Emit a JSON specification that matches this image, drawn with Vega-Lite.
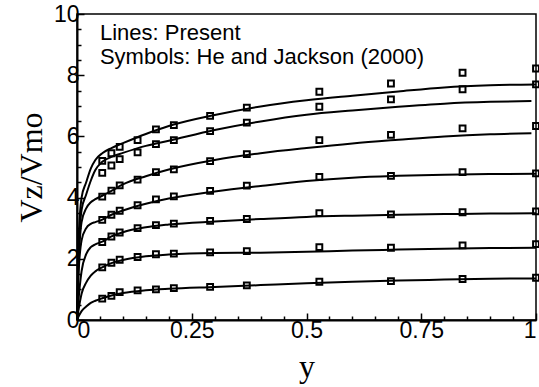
{
  "$schema": "https://vega.github.io/schema/vega-lite/v6.json",
  "autosize": "none",
  "width": 459,
  "height": 306,
  "padding": {"left": 77, "top": 14, "right": 3, "bottom": 67},
  "background": "white",
  "config": {
    "view": {"stroke": "black", "strokeWidth": 1.5},
    "axis": {
      "domainColor": "black", "domainWidth": 2, "tickColor": "black", "tickWidth": 1.5,
      "labelFont": "Liberation Sans", "labelFontSize": 23, "labelColor": "black",
      "titleFont": "Liberation Serif", "titleFontSize": 32, "titleFontWeight": "normal", "titleColor": "black",
      "grid": false
    }
  },
  "datasets": {
    "lines": [
      {"case": 1, "pos": 0, "vz": 0}, {"case": 1, "pos": 0.003, "vz": 0.1}, {"case": 1, "pos": 0.01, "vz": 0.29}, {"case": 1, "pos": 0.02, "vz": 0.44}, {"case": 1, "pos": 0.03, "vz": 0.56}, {"case": 1, "pos": 0.04, "vz": 0.63}, {"case": 1, "pos": 0.055, "vz": 0.71}, {"case": 1, "pos": 0.075, "vz": 0.8}, {"case": 1, "pos": 0.1, "vz": 0.88}, {"case": 1, "pos": 0.15, "vz": 0.97}, {"case": 1, "pos": 0.2, "vz": 1.02}, {"case": 1, "pos": 0.3, "vz": 1.08}, {"case": 1, "pos": 0.4, "vz": 1.14}, {"case": 1, "pos": 0.5, "vz": 1.2}, {"case": 1, "pos": 0.6, "vz": 1.25}, {"case": 1, "pos": 0.7, "vz": 1.29}, {"case": 1, "pos": 0.8, "vz": 1.32}, {"case": 1, "pos": 0.9, "vz": 1.35}, {"case": 1, "pos": 1.0, "vz": 1.36},
      {"case": 2, "pos": 0, "vz": 0}, {"case": 2, "pos": 0.003, "vz": 0.3}, {"case": 2, "pos": 0.01, "vz": 0.86}, {"case": 2, "pos": 0.02, "vz": 1.22}, {"case": 2, "pos": 0.03, "vz": 1.45}, {"case": 2, "pos": 0.04, "vz": 1.59}, {"case": 2, "pos": 0.055, "vz": 1.72}, {"case": 2, "pos": 0.075, "vz": 1.86}, {"case": 2, "pos": 0.1, "vz": 1.96}, {"case": 2, "pos": 0.15, "vz": 2.08}, {"case": 2, "pos": 0.2, "vz": 2.14}, {"case": 2, "pos": 0.3, "vz": 2.19}, {"case": 2, "pos": 0.4, "vz": 2.2}, {"case": 2, "pos": 0.5, "vz": 2.23}, {"case": 2, "pos": 0.6, "vz": 2.27}, {"case": 2, "pos": 0.7, "vz": 2.3}, {"case": 2, "pos": 0.8, "vz": 2.33}, {"case": 2, "pos": 0.9, "vz": 2.35}, {"case": 2, "pos": 1.0, "vz": 2.36},
      {"case": 3, "pos": 0, "vz": 0}, {"case": 3, "pos": 0.003, "vz": 0.6}, {"case": 3, "pos": 0.01, "vz": 1.6}, {"case": 3, "pos": 0.02, "vz": 2.15}, {"case": 3, "pos": 0.03, "vz": 2.38}, {"case": 3, "pos": 0.04, "vz": 2.47}, {"case": 3, "pos": 0.055, "vz": 2.56}, {"case": 3, "pos": 0.075, "vz": 2.73}, {"case": 3, "pos": 0.1, "vz": 2.87}, {"case": 3, "pos": 0.15, "vz": 3.03}, {"case": 3, "pos": 0.2, "vz": 3.12}, {"case": 3, "pos": 0.3, "vz": 3.22}, {"case": 3, "pos": 0.4, "vz": 3.3}, {"case": 3, "pos": 0.5, "vz": 3.37}, {"case": 3, "pos": 0.6, "vz": 3.41}, {"case": 3, "pos": 0.7, "vz": 3.44}, {"case": 3, "pos": 0.8, "vz": 3.46}, {"case": 3, "pos": 0.9, "vz": 3.48}, {"case": 3, "pos": 1.0, "vz": 3.49},
      {"case": 4, "pos": 0, "vz": 0}, {"case": 4, "pos": 0.003, "vz": 1.4}, {"case": 4, "pos": 0.01, "vz": 2.6}, {"case": 4, "pos": 0.02, "vz": 3.0}, {"case": 4, "pos": 0.03, "vz": 3.14}, {"case": 4, "pos": 0.04, "vz": 3.2}, {"case": 4, "pos": 0.055, "vz": 3.28}, {"case": 4, "pos": 0.075, "vz": 3.44}, {"case": 4, "pos": 0.1, "vz": 3.58}, {"case": 4, "pos": 0.15, "vz": 3.8}, {"case": 4, "pos": 0.2, "vz": 3.97}, {"case": 4, "pos": 0.3, "vz": 4.2}, {"case": 4, "pos": 0.4, "vz": 4.38}, {"case": 4, "pos": 0.5, "vz": 4.54}, {"case": 4, "pos": 0.6, "vz": 4.65}, {"case": 4, "pos": 0.7, "vz": 4.71}, {"case": 4, "pos": 0.8, "vz": 4.75}, {"case": 4, "pos": 0.9, "vz": 4.77}, {"case": 4, "pos": 1.0, "vz": 4.78},
      {"case": 5, "pos": 0, "vz": 0}, {"case": 5, "pos": 0.003, "vz": 1.6}, {"case": 5, "pos": 0.01, "vz": 3.2}, {"case": 5, "pos": 0.02, "vz": 3.65}, {"case": 5, "pos": 0.03, "vz": 3.85}, {"case": 5, "pos": 0.04, "vz": 3.95}, {"case": 5, "pos": 0.055, "vz": 4.06}, {"case": 5, "pos": 0.075, "vz": 4.22}, {"case": 5, "pos": 0.1, "vz": 4.43}, {"case": 5, "pos": 0.15, "vz": 4.7}, {"case": 5, "pos": 0.2, "vz": 4.92}, {"case": 5, "pos": 0.3, "vz": 5.23}, {"case": 5, "pos": 0.4, "vz": 5.45}, {"case": 5, "pos": 0.5, "vz": 5.62}, {"case": 5, "pos": 0.6, "vz": 5.77}, {"case": 5, "pos": 0.7, "vz": 5.89}, {"case": 5, "pos": 0.8, "vz": 6.0}, {"case": 5, "pos": 0.9, "vz": 6.07}, {"case": 5, "pos": 0.99, "vz": 6.1},
      {"case": 6, "pos": 0, "vz": 0}, {"case": 6, "pos": 0.003, "vz": 2.0}, {"case": 6, "pos": 0.01, "vz": 3.6}, {"case": 6, "pos": 0.02, "vz": 4.1}, {"case": 6, "pos": 0.03, "vz": 4.55}, {"case": 6, "pos": 0.04, "vz": 4.9}, {"case": 6, "pos": 0.055, "vz": 5.17}, {"case": 6, "pos": 0.075, "vz": 5.33}, {"case": 6, "pos": 0.1, "vz": 5.46}, {"case": 6, "pos": 0.15, "vz": 5.69}, {"case": 6, "pos": 0.2, "vz": 5.86}, {"case": 6, "pos": 0.3, "vz": 6.21}, {"case": 6, "pos": 0.4, "vz": 6.49}, {"case": 6, "pos": 0.5, "vz": 6.71}, {"case": 6, "pos": 0.6, "vz": 6.85}, {"case": 6, "pos": 0.7, "vz": 6.97}, {"case": 6, "pos": 0.8, "vz": 7.07}, {"case": 6, "pos": 0.9, "vz": 7.13}, {"case": 6, "pos": 0.99, "vz": 7.16},
      {"case": 7, "pos": 0, "vz": 0}, {"case": 7, "pos": 0.003, "vz": 2.4}, {"case": 7, "pos": 0.01, "vz": 4.0}, {"case": 7, "pos": 0.02, "vz": 4.5}, {"case": 7, "pos": 0.03, "vz": 4.95}, {"case": 7, "pos": 0.04, "vz": 5.23}, {"case": 7, "pos": 0.055, "vz": 5.45}, {"case": 7, "pos": 0.075, "vz": 5.62}, {"case": 7, "pos": 0.1, "vz": 5.78}, {"case": 7, "pos": 0.15, "vz": 6.08}, {"case": 7, "pos": 0.2, "vz": 6.34}, {"case": 7, "pos": 0.3, "vz": 6.7}, {"case": 7, "pos": 0.4, "vz": 6.98}, {"case": 7, "pos": 0.5, "vz": 7.18}, {"case": 7, "pos": 0.6, "vz": 7.33}, {"case": 7, "pos": 0.7, "vz": 7.47}, {"case": 7, "pos": 0.8, "vz": 7.6}, {"case": 7, "pos": 0.9, "vz": 7.67}, {"case": 7, "pos": 1.0, "vz": 7.7}
    ],
    "symbols": [
      {"case": 1, "pos": 0.055, "vz": 0.7}, {"case": 1, "pos": 0.075, "vz": 0.79}, {"case": 1, "pos": 0.093, "vz": 0.91}, {"case": 1, "pos": 0.132, "vz": 0.97}, {"case": 1, "pos": 0.172, "vz": 1.0}, {"case": 1, "pos": 0.211, "vz": 1.04}, {"case": 1, "pos": 0.29, "vz": 1.08}, {"case": 1, "pos": 0.37, "vz": 1.13}, {"case": 1, "pos": 0.528, "vz": 1.25}, {"case": 1, "pos": 0.684, "vz": 1.27}, {"case": 1, "pos": 0.84, "vz": 1.34}, {"case": 1, "pos": 1.0, "vz": 1.38},
      {"case": 2, "pos": 0.055, "vz": 1.72}, {"case": 2, "pos": 0.075, "vz": 1.87}, {"case": 2, "pos": 0.093, "vz": 1.97}, {"case": 2, "pos": 0.132, "vz": 2.06}, {"case": 2, "pos": 0.172, "vz": 2.15}, {"case": 2, "pos": 0.211, "vz": 2.17}, {"case": 2, "pos": 0.29, "vz": 2.21}, {"case": 2, "pos": 0.37, "vz": 2.25}, {"case": 2, "pos": 0.528, "vz": 2.38}, {"case": 2, "pos": 0.684, "vz": 2.36}, {"case": 2, "pos": 0.84, "vz": 2.44}, {"case": 2, "pos": 1.0, "vz": 2.48},
      {"case": 3, "pos": 0.055, "vz": 2.55}, {"case": 3, "pos": 0.075, "vz": 2.73}, {"case": 3, "pos": 0.093, "vz": 2.86}, {"case": 3, "pos": 0.132, "vz": 3.0}, {"case": 3, "pos": 0.172, "vz": 3.1}, {"case": 3, "pos": 0.211, "vz": 3.15}, {"case": 3, "pos": 0.29, "vz": 3.24}, {"case": 3, "pos": 0.37, "vz": 3.3}, {"case": 3, "pos": 0.528, "vz": 3.49}, {"case": 3, "pos": 0.684, "vz": 3.45}, {"case": 3, "pos": 0.84, "vz": 3.52}, {"case": 3, "pos": 1.0, "vz": 3.55},
      {"case": 4, "pos": 0.055, "vz": 3.27}, {"case": 4, "pos": 0.075, "vz": 3.44}, {"case": 4, "pos": 0.093, "vz": 3.57}, {"case": 4, "pos": 0.132, "vz": 3.75}, {"case": 4, "pos": 0.172, "vz": 3.94}, {"case": 4, "pos": 0.211, "vz": 4.04}, {"case": 4, "pos": 0.29, "vz": 4.22}, {"case": 4, "pos": 0.37, "vz": 4.39}, {"case": 4, "pos": 0.528, "vz": 4.68}, {"case": 4, "pos": 0.684, "vz": 4.71}, {"case": 4, "pos": 0.84, "vz": 4.83}, {"case": 4, "pos": 1.0, "vz": 4.79},
      {"case": 5, "pos": 0.055, "vz": 4.03}, {"case": 5, "pos": 0.075, "vz": 4.23}, {"case": 5, "pos": 0.093, "vz": 4.4}, {"case": 5, "pos": 0.132, "vz": 4.59}, {"case": 5, "pos": 0.172, "vz": 4.83}, {"case": 5, "pos": 0.211, "vz": 4.92}, {"case": 5, "pos": 0.29, "vz": 5.19}, {"case": 5, "pos": 0.37, "vz": 5.42}, {"case": 5, "pos": 0.528, "vz": 5.88}, {"case": 5, "pos": 0.684, "vz": 6.05}, {"case": 5, "pos": 0.84, "vz": 6.26}, {"case": 5, "pos": 1.0, "vz": 6.34},
      {"case": 6, "pos": 0.055, "vz": 4.81}, {"case": 6, "pos": 0.075, "vz": 5.05}, {"case": 6, "pos": 0.093, "vz": 5.26}, {"case": 6, "pos": 0.132, "vz": 5.48}, {"case": 6, "pos": 0.172, "vz": 5.75}, {"case": 6, "pos": 0.211, "vz": 5.88}, {"case": 6, "pos": 0.29, "vz": 6.17}, {"case": 6, "pos": 0.37, "vz": 6.45}, {"case": 6, "pos": 0.528, "vz": 6.97}, {"case": 6, "pos": 0.684, "vz": 7.21}, {"case": 6, "pos": 0.84, "vz": 7.54}, {"case": 6, "pos": 1.0, "vz": 7.7},
      {"case": 7, "pos": 0.055, "vz": 5.2}, {"case": 7, "pos": 0.075, "vz": 5.45}, {"case": 7, "pos": 0.093, "vz": 5.66}, {"case": 7, "pos": 0.132, "vz": 5.88}, {"case": 7, "pos": 0.172, "vz": 6.23}, {"case": 7, "pos": 0.211, "vz": 6.37}, {"case": 7, "pos": 0.29, "vz": 6.67}, {"case": 7, "pos": 0.37, "vz": 6.94}, {"case": 7, "pos": 0.528, "vz": 7.46}, {"case": 7, "pos": 0.684, "vz": 7.73}, {"case": 7, "pos": 0.84, "vz": 8.08}, {"case": 7, "pos": 1.0, "vz": 8.22}
    ],
    "notes": [{"note": "Lines: Present\nSymbols: He and Jackson (2000)"}]
  },
  "layer": [
    {
      "data": {"name": "lines"},
      "mark": {"type": "line", "color": "black", "strokeWidth": 2, "interpolate": "monotone"},
      "encoding": {
        "x": {"field": "pos", "type": "quantitative", "scale": {"domain": [0, 1], "nice": false},
              "axis": {"orient": "bottom", "values": [0, 0.25, 0.5, 0.75, 1], "format": ".2~f", "tickSize": -7, "labelPadding": 6, "title": "y", "titlePadding": 9}},
        "y": {"field": "vz", "type": "quantitative", "scale": {"domain": [0, 10], "nice": false},
              "axis": {"orient": "left", "values": [0, 2, 4, 6, 8, 10], "format": ".0f", "tickSize": -7, "labelPadding": 5, "title": "Vz/Vmo", "titlePadding": 5}},
        "detail": {"field": "case", "type": "nominal"}
      }
    },
    {
      "data": {"name": "symbols"},
      "mark": {"type": "point", "shape": "square", "filled": false, "stroke": "black", "strokeWidth": 2, "size": 34, "opacity": 1},
      "encoding": {
        "x": {"field": "pos", "type": "quantitative",
              "axis": {"orient": "bottom", "values": [0.05, 0.1, 0.15, 0.2, 0.3, 0.35, 0.4, 0.45, 0.55, 0.6, 0.65, 0.7, 0.8, 0.85, 0.9, 0.95], "tickSize": -4, "labels": false, "domain": false, "title": null}},
        "y": {"field": "vz", "type": "quantitative",
              "axis": {"orient": "left", "values": [0.5, 1, 1.5, 2.5, 3, 3.5, 4.5, 5, 5.5, 6.5, 7, 7.5, 8.5, 9, 9.5], "tickSize": -4, "labels": false, "domain": false, "title": null}}
      }
    },
    {
      "data": {"name": "notes"},
      "mark": {"type": "text", "align": "left", "baseline": "top", "font": "Liberation Sans", "fontSize": 22, "lineHeight": 24, "lineBreak": "\n", "color": "black"},
      "encoding": {
        "x": {"datum": 0.05, "type": "quantitative", "axis": null},
        "y": {"datum": 9.72, "type": "quantitative", "axis": null},
        "text": {"field": "note"}
      }
    }
  ],
  "resolve": {"axis": {"x": "independent", "y": "independent"}}
}
